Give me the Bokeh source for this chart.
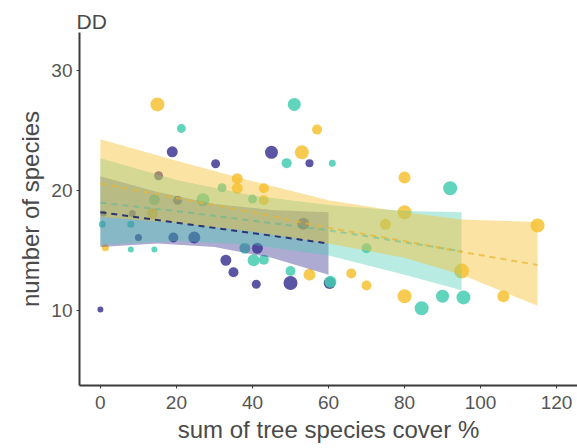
from bokeh.plotting import figure
from bokeh.models import FixedTicker
from bokeh.embed import file_html
from bokeh.resources import INLINE

# ---- data ----
PURPLE = "#3d3893"
TEAL = "#45ccb3"
GOLD = "#f6c232"

# points: x = sum of tree species cover %, y = number of species, size = marker diameter
purple_x = [0, 15.3, 8.4, 0.8, 10, 19.2, 24.7, 20.3, 18.9, 30.3, 45, 55, 53.4, 41.3, 33, 35, 50, 41, 60.3]
purple_y = [10.1, 21.25, 18.1, 18.1, 16.1, 16.1, 16.1, 19.2, 23.25, 22.25, 23.2, 22.3, 17.25, 15.2, 14.2, 13.2, 12.3, 12.2, 12.3]
purple_s = [6, 9, 7, 6, 7, 10, 12, 9, 11, 9, 13, 8, 12, 11, 11, 10, 14, 9, 12]

teal_x = [21.3, 51, 49, 61, 92, 70, 84.5, 90, 95.5, 14.2, 27, 0.5, 8, 8, 14.2, 40, 32, 38, 40.3, 43, 50, 60.5]
teal_y = [25.2, 27.2, 22.3, 22.3, 20.2, 15.2, 10.2, 11.2, 11.1, 19.25, 19.25, 17.2, 17.2, 15.1, 15.1, 19.3, 20.25, 15.2, 14.2, 14.25, 13.3, 12.4]
teal_s = [9, 13, 10, 7, 14, 10, 14, 13, 14, 11, 13, 7, 7, 6, 6, 9, 9, 11, 12, 10, 10, 12]

gold_x = [15, 57, 53, 36, 36, 43, 43, 80, 80, 75, 66, 70, 80, 115, 95, 106, 55, 13.7, 1.3]
gold_y = [27.2, 25.1, 23.2, 21.0, 20.2, 20.2, 19.2, 21.1, 18.2, 17.2, 13.1, 12.1, 11.2, 17.1, 13.3, 11.2, 13.0, 18.1, 15.25]
gold_s = [14, 10, 14, 11, 11, 10, 10, 12, 14, 11, 10, 10, 14, 14, 15, 12, 12, 11, 7]

# fitted lines and confidence bands
purple_fx = [0, 15, 30, 45, 60]
purple_fit = [18.2, 17.55, 16.9, 16.25, 15.6]
purple_lo = [15.3, 15.6, 15.3, 14.4, 13.0]
purple_hi = [21.2, 19.9, 18.9, 18.4, 18.2]

teal_fx = [0, 20, 40, 60, 80, 95]
teal_fit = [19.0, 18.3, 17.5, 16.7, 15.7, 14.95]
teal_lo = [15.5, 15.8, 15.5, 14.6, 13.0, 11.7]
teal_hi = [22.7, 20.9, 19.6, 18.8, 18.3, 18.2]

gold_fx = [0, 20, 40, 60, 80, 95, 115]
gold_fit = [20.6, 19.4, 18.2, 16.9, 15.8, 14.9, 13.8]
gold_lo = [17.8, 17.3, 16.6, 15.6, 14.4, 13.0, 10.4]
gold_hi = [24.3, 22.5, 20.8, 19.2, 18.2, 17.6, 17.4]

x_ticks = [0, 20, 40, 60, 80, 100, 120]
y_ticks = [10, 20, 30]

FONT = "Liberation Sans"
TXT = "#4a4a4a"

p = figure(width=577, height=448, x_range=(-5.5, 125.5), y_range=(3.75, 33.2),
           output_backend="svg", toolbar_location=None,
           min_border_left=79, min_border_right=0, min_border_top=32, min_border_bottom=63,
           title="DD")

p.title.text_font = FONT
p.title.text_font_size = "21px"
p.title.text_font_style = "normal"
p.title.text_color = TXT
p.title.align = "left"
p.title.standoff = 0
p.title.offset = -3

# points (drawn beneath the bands)
p.scatter(purple_x, purple_y, size=purple_s, fill_color=PURPLE, fill_alpha=0.85, line_color=None)
p.scatter(teal_x, teal_y, size=teal_s, fill_color=TEAL, fill_alpha=0.85, line_color=None)
p.scatter(gold_x, gold_y, size=gold_s, fill_color=GOLD, fill_alpha=0.85, line_color=None)

# confidence bands
p.varea(x=purple_fx, y1=purple_lo, y2=purple_hi, fill_color=PURPLE, fill_alpha=0.42)
p.varea(x=teal_fx, y1=teal_lo, y2=teal_hi, fill_color=TEAL, fill_alpha=0.38)
p.varea(x=gold_fx, y1=gold_lo, y2=gold_hi, fill_color=GOLD, fill_alpha=0.45)

# fitted lines
p.line(purple_fx, purple_fit, line_color="#2b3570", line_width=2, line_dash="6 5")
p.line(teal_fx, teal_fit, line_color="#3ab39c", line_width=2, line_dash="6 5", line_alpha=0.4)
p.line(gold_fx, gold_fit, line_color="#e8b530", line_width=2, line_dash="6 5", line_alpha=0.7)

# axes
p.xgrid.visible = False
p.ygrid.visible = False
p.outline_line_color = None
p.xaxis.ticker = FixedTicker(ticks=x_ticks)
p.yaxis.ticker = FixedTicker(ticks=y_ticks)
p.xaxis.axis_label = "sum of tree species cover %"
p.yaxis.axis_label = "number of species"
for ax in (p.xaxis[0], p.yaxis[0]):
    ax.axis_line_color = "#3a3a3a"
    ax.axis_line_width = 2
    ax.major_tick_line_color = "#3a3a3a"
    ax.major_tick_out = 3
    ax.major_tick_in = 0
    ax.minor_tick_line_color = None
    ax.major_label_text_font = FONT
    ax.major_label_text_font_size = "19px"
    ax.major_label_text_color = "#555555"
    ax.axis_label_text_font = FONT
    ax.axis_label_text_font_size = "24px"
    ax.axis_label_text_font_style = "normal"
    ax.axis_label_text_color = TXT
p.xaxis.major_label_standoff = 7
p.yaxis.major_label_standoff = 4
p.xaxis.axis_label_standoff = 4
p.yaxis.axis_label_standoff = 4

open("out.html", "w").write(file_html(p, INLINE))
